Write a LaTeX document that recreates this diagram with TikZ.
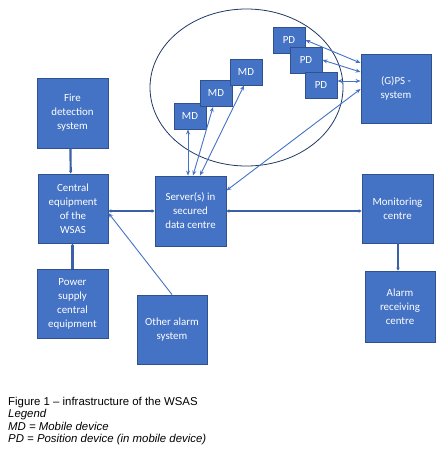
\documentclass[tikz,border=0pt]{standalone}
\usepackage{fontspec}
\setmainfont{Carlito}
\newfontfamily\capfont{Liberation Sans}
\usetikzlibrary{arrows.meta}
\definecolor{boxblue}{HTML}{4472C4}
\definecolor{boxedge}{HTML}{2F528F}
\definecolor{ringblue}{HTML}{203864}
\begin{document}
\begin{tikzpicture}[x=1pt,y=-1pt,
    box/.style={rectangle,fill=boxblue,draw=boxedge,line width=0.9pt,text=white,
      align=center,inner sep=0pt,font=\fontsize{10.9}{14}\selectfont},
    dev/.style={box,minimum width=32pt,minimum height=26pt},
    link/.style={draw=boxblue,line width=0.9pt,{Stealth[length=5pt,width=4pt]}-{Stealth[length=5pt,width=4pt]}},
    thicklink/.style={draw=boxblue!85!black,line width=2.2pt},
    tipend/.style={-{Stealth[length=3pt,width=3.5pt]}},
    tipboth/.style={{Stealth[length=3pt,width=3.5pt]}-{Stealth[length=3pt,width=3.5pt]}}]
        \useasboundingbox (0,0) rectangle (445,453);

        % mobile area
        \draw[ringblue,line width=0.8pt] (246.5,87.5) ellipse [x radius=96.5, y radius=78.5];

        \node[box,minimum width=71pt,minimum height=70pt] (fire)    at ( 72.5,113.0) {Fire\\detection\\system};
        \node[box,minimum width=70pt,minimum height=69pt] (central) at ( 73.0,208.5) {Central\\equipment\\of the\\WSAS};
        \node[box,minimum width=71pt,minimum height=69pt] (power)   at ( 72.5,303.5) {Power\\supply\\central\\equipment};
        \node[box,minimum width=70pt,minimum height=69pt] (other)   at (172.0,329.5) {Other alarm\\system};
        \node[box,minimum width=71pt,minimum height=70pt] (server)  at (190.5,211.0) {Server(s) in\\secured\\data centre};
        \node[box,minimum width=71pt,minimum height=69pt] (monitor) at (397.5,208.5) {Monitoring\\centre};
        \node[box,minimum width=70pt,minimum height=71pt] (arc)     at (400.0,306.5) {Alarm\\receiving\\centre};
        \node[box,minimum width=70pt,minimum height=69pt] (gps)     at (396.0, 88.5) {(G)PS -\\system};

        \node[dev] (md1) at (190.0,116.0) {MD};
        \node[dev] (md2) at (216.0, 93.5) {MD};
        \node[dev] (md3) at (246.0, 72.0) {MD};
        \node[dev] (pd1) at (289.0, 40.0) {PD};
        \node[dev] (pd2) at (306.0, 60.0) {PD};
        \node[dev] (pd3) at (321.0, 85.5) {PD};

        \node[anchor=north west,inner sep=0pt,align=left,
          font=\capfont\fontsize{11.4}{12.4}\selectfont] (caption) at (8,397)
          {Figure 1 – infrastructure of the WSAS\\\textit{Legend}\\\textit{MD = Mobile device}\\\textit{PD = Position device (in mobile device)}};

        \draw[thicklink,tipend] ([xshift=-2pt]fire.south) to ([xshift=-2.3pt]central.north);
        \draw[thicklink,tipend] (power.north) to (power.north |- central.south);
        \draw[thicklink,tipend] ([xshift=0.5pt]monitor.south) to ([xshift=-2pt]arc.north);
        \draw[thicklink,tipboth] (server.west -| central.east) to (server.west);
        \draw[thicklink,tipboth] (server.east) to (server.east -| monitor.west);

        \draw[link,-{Stealth[length=5pt,width=4pt]}] (other.north) to ([yshift=-4.5pt]central.east);
        \draw[link] ([xshift=-2pt]md1.south) to ([xshift=-2.5pt]server.north);
        \draw[link] ([xshift=-3pt]md2.south) to ([xshift=2.5pt]server.north);
        \draw[link] ([xshift=-2pt]md3.south) to ([xshift=9.5pt]server.north);
        \draw[link] (pd1.east) to ([yshift=25.5pt]gps.west);
        \draw[link] (pd2.east) to ([yshift=16.5pt]gps.west);
        \draw[link] ([yshift=4.5pt]pd3.east) to ([yshift=7.5pt]gps.west);
        \draw[link] ([yshift=-0.5pt]gps.west) to ([yshift=-15pt]server.north east);
      \end{tikzpicture}
\end{document}
